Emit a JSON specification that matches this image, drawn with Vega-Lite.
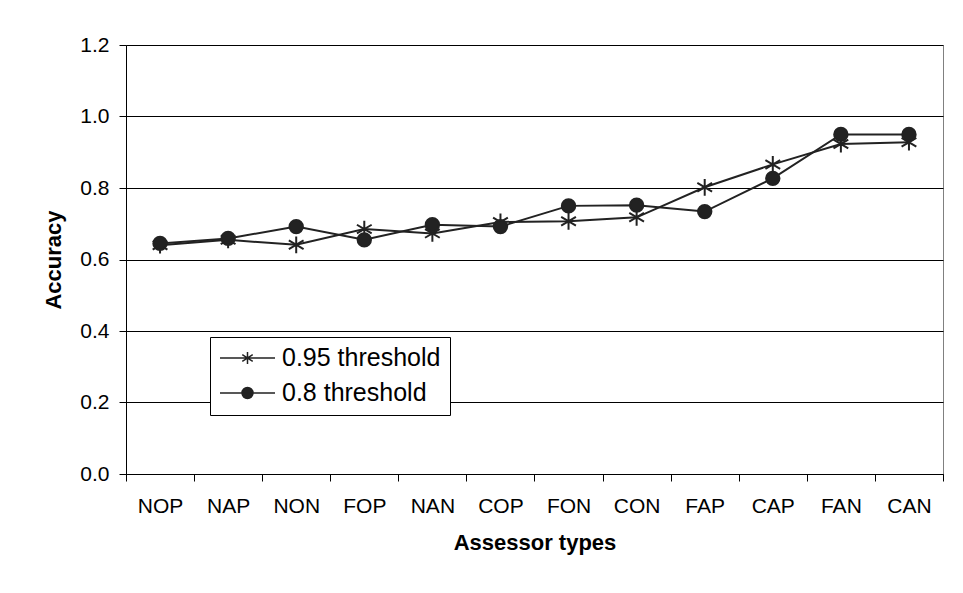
{
  "$schema": "https://vega.github.io/schema/vega-lite/v6.json",
  "width": 817,
  "height": 429,
  "autosize": {"type": "none"},
  "padding": {"left": 126, "top": 45, "right": 20, "bottom": 119},
  "background": "white",
  "config": {
    "font": "Liberation Sans",
    "view": {"stroke": "#808080", "strokeWidth": 1}
  },
  "data": {
    "values": [
      {"type": "NOP", "series": "0.95 threshold", "value": 0.640},
      {"type": "NAP", "series": "0.95 threshold", "value": 0.655},
      {"type": "NON", "series": "0.95 threshold", "value": 0.641},
      {"type": "FOP", "series": "0.95 threshold", "value": 0.685},
      {"type": "NAN", "series": "0.95 threshold", "value": 0.673},
      {"type": "COP", "series": "0.95 threshold", "value": 0.705},
      {"type": "FON", "series": "0.95 threshold", "value": 0.707},
      {"type": "CON", "series": "0.95 threshold", "value": 0.718},
      {"type": "FAP", "series": "0.95 threshold", "value": 0.802},
      {"type": "CAP", "series": "0.95 threshold", "value": 0.866},
      {"type": "FAN", "series": "0.95 threshold", "value": 0.923},
      {"type": "CAN", "series": "0.95 threshold", "value": 0.928},
      {"type": "NOP", "series": "0.8 threshold", "value": 0.645},
      {"type": "NAP", "series": "0.8 threshold", "value": 0.659},
      {"type": "NON", "series": "0.8 threshold", "value": 0.692},
      {"type": "FOP", "series": "0.8 threshold", "value": 0.655},
      {"type": "NAN", "series": "0.8 threshold", "value": 0.697},
      {"type": "COP", "series": "0.8 threshold", "value": 0.692},
      {"type": "FON", "series": "0.8 threshold", "value": 0.750},
      {"type": "CON", "series": "0.8 threshold", "value": 0.752},
      {"type": "FAP", "series": "0.8 threshold", "value": 0.734},
      {"type": "CAP", "series": "0.8 threshold", "value": 0.827},
      {"type": "FAN", "series": "0.8 threshold", "value": 0.950},
      {"type": "CAN", "series": "0.8 threshold", "value": 0.950}
    ]
  },
  "encoding": {
    "x": {
      "field": "type",
      "type": "nominal",
      "scale": {"domain": ["NOP", "NAP", "NON", "FOP", "NAN", "COP", "FON", "CON", "FAP", "CAP", "FAN", "CAN"], "paddingInner": 0, "paddingOuter": 0},
      "axis": {
        "title": "Assessor types",
        "tickBand": "extent",
        "labelAngle": 0,
        "grid": false,
        "domainColor": "black",
        "tickColor": "black",
        "tickSize": 7,
        "labelFontSize": 21,
        "labelColor": "black",
        "labelPadding": 14,
        "titleFontSize": 22,
        "titleFontWeight": "bold",
        "titleColor": "black",
        "titlePadding": 16
      }
    },
    "y": {
      "field": "value",
      "type": "quantitative",
      "scale": {"domain": [0, 1.2], "nice": false},
      "axis": {
        "title": "Accuracy",
        "values": [0, 0.2, 0.4, 0.6, 0.8, 1.0, 1.2],
        "format": ".1f",
        "grid": true,
        "gridColor": "black",
        "gridOpacity": 1,
        "domainColor": "black",
        "tickColor": "black",
        "tickSize": 7,
        "labelFontSize": 21,
        "labelColor": "black",
        "labelPadding": 10,
        "titleFontSize": 22,
        "titleFontWeight": "bold",
        "titleColor": "black",
        "titlePadding": 14
      }
    }
  },
  "layer": [
    {
      "mark": {"type": "line", "color": "#222", "strokeWidth": 2},
      "encoding": {"detail": {"field": "series"}}
    },
    {
      "mark": {"type": "point", "filled": true, "fill": "#222", "stroke": "#222", "strokeWidth": 2, "size": 180, "opacity": 1},
      "encoding": {
        "shape": {
          "field": "series",
          "scale": {"domain": ["0.95 threshold", "0.8 threshold"], "range": ["M0,-1.25V1.25M-1.1,-0.65L1.1,0.65M-1.1,0.65L1.1,-0.65", "circle"]},
          "legend": null
        }
      }
    },
    {
      "transform": [{"filter": "false"}],
      "mark": {"type": "point", "filled": true, "fill": "#222", "stroke": "#222", "strokeWidth": 2, "opacity": 1},
      "encoding": {
        "shape": {
          "field": "series",
          "scale": {"domain": ["0.95 threshold", "0.8 threshold"], "range": ["M-1,0H1M0,-0.22V0.22M-0.19,-0.12L0.19,0.12M-0.19,0.12L0.19,-0.12", "M-1,0H1M0.2,0A0.2,0.2,0,1,1,-0.2,0A0.2,0.2,0,1,1,0.2,0Z"]},
          "legend": {
            "title": null,
            "orient": "none",
            "legendX": 84,
            "legendY": 292,
            "strokeColor": "black",
            "fillColor": "white",
            "padding": 9,
            "symbolSize": 3025,
            "clipHeight": 24,
            "rowPadding": 10,
            "labelOffset": 6,
            "labelFontSize": 25,
            "labelColor": "black",
            "encode": {
              "symbols": {"update": {"fill": {"value": "#222"}, "stroke": {"value": "#222"}, "strokeWidth": {"value": 2}, "opacity": {"value": 1}}}
            }
          }
        }
      }
    }
  ],
  "resolve": {"scale": {"shape": "independent"}}
}
